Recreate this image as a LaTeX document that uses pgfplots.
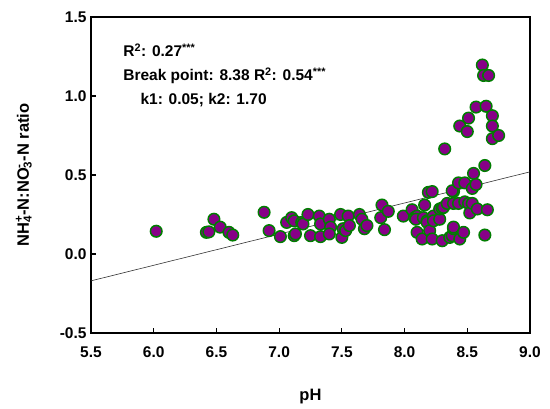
\documentclass[border=0pt]{standalone}
\usepackage{fontspec}
\setmainfont{Liberation Sans}
\usepackage{pgfplots}
\pgfplotsset{compat=1.18}
\definecolor{ptfill}{RGB}{135,0,135}
\definecolor{ptedge}{RGB}{0,125,0}
\begin{document}
\begin{tikzpicture}
\useasboundingbox (-91pt,-76pt) rectangle (459pt,333pt);
\begin{axis}[
  at={(0,0)}, anchor=south west,
  scale only axis, width=439pt, height=316pt,
  xmin=5.5, xmax=9.0, ymin=-0.5, ymax=1.5,
  xtick={5.5,6.0,6.5,7.0,7.5,8.0,8.5,9.0},
  ytick={-0.5,0.0,0.5,1.0,1.5},
  xtick pos=bottom, ytick pos=left,
  tick align=inside, major tick length=5pt,
  every tick/.style={black, line width=1.2pt},
  axis line style={line width=1.6pt},
  /pgf/number format/assume math mode=true,
  xticklabel style={/pgf/number format/.cd, fixed, fixed zerofill, precision=1, /tikz/.cd, yshift=-10pt},
  yticklabel style={/pgf/number format/.cd, fixed, fixed zerofill, precision=1, /tikz/.cd, xshift=-1pt},
  ticklabel style={font=\bfseries\fontsize{15.5}{18}\selectfont},
  xlabel={pH},
  ylabel={NH\rlap{\textsuperscript{+}}\textsubscript{4}-N:NO\rlap{\textsuperscript{-}}\textsubscript{3}-N ratio},
  label style={font=\bfseries\fontsize{16.5}{19}\selectfont},
  xlabel style={at={(axis description cs:0.5,-0.2)}, anchor=center},
  ylabel style={at={(axis description cs:-0.153,0.5)}, anchor=center},
]
\addplot[black!80, line width=0.6pt] coordinates {(5.5,-0.17) (9.0,0.52)};
\addplot[only marks, mark=*, mark size=5.8pt,
  mark options={fill=ptfill, draw=ptedge, line width=1.5pt}] table {
x y
6.02 0.144
6.42 0.137
6.44 0.14
6.48 0.22
6.53 0.17
6.60 0.137
6.63 0.12
6.88 0.264
6.92 0.148
7.01 0.11
7.06 0.20
7.10 0.23
7.12 0.21
7.12 0.116
7.13 0.127
7.18 0.20
7.19 0.19
7.23 0.25
7.25 0.116
7.32 0.24
7.33 0.19
7.33 0.11
7.40 0.22
7.41 0.17
7.40 0.127
7.49 0.25
7.50 0.105
7.51 0.16
7.53 0.148
7.55 0.24
7.56 0.18
7.64 0.25
7.66 0.22
7.68 0.16
7.70 0.18
7.82 0.31
7.81 0.23
7.87 0.27
7.84 0.154
7.99 0.24
8.06 0.28
8.08 0.23
8.10 0.24
8.09 0.22
8.10 0.137
8.14 0.095
8.15 0.23
8.16 0.31
8.18 0.21
8.18 0.20
8.19 0.39
8.22 0.395
8.20 0.148
8.22 0.095
8.23 0.24
8.23 0.21
8.28 0.22
8.28 0.285
8.30 0.29
8.30 0.084
8.31 0.295
8.32 0.665
8.34 0.32
8.36 0.105
8.38 0.116
8.39 0.16
8.39 0.17
8.39 0.32
8.39 0.395
8.38 0.40
8.43 0.32
8.43 0.45
8.44 0.095
8.44 0.81
8.47 0.137
8.48 0.33
8.48 0.45
8.50 0.775
8.51 0.86
8.51 0.32
8.52 0.26
8.54 0.415
8.54 0.32
8.55 0.51
8.57 0.44
8.57 0.93
8.58 0.285
8.62 1.196
8.63 1.13
8.64 0.56
8.64 0.12
8.65 0.935
8.66 0.28
8.67 1.13
8.70 0.875
8.70 0.81
8.70 0.73
8.75 0.75
};
\node[anchor=base west, font=\bfseries\fontsize{15.5}{18}\selectfont] at (axis cs:5.73,1.247) {R\textsuperscript{2}: 0.27\textsuperscript{***}};
\node[anchor=base west, font=\bfseries\fontsize{15.5}{18}\selectfont] at (axis cs:5.73,1.095) {Break point: 8.38 R\textsuperscript{2}: 0.54\textsuperscript{***}};
\node[anchor=base west, font=\bfseries\fontsize{15.5}{18}\selectfont] at (axis cs:5.867,0.949) {k1: 0.05; k2: 1.70};
\end{axis}
\end{tikzpicture}
\end{document}
